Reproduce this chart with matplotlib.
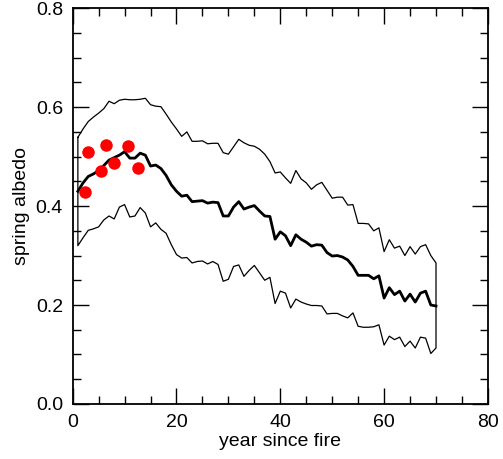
import matplotlib
matplotlib.use("Agg")
import matplotlib.pyplot as plt
import numpy as np

plt.rcParams['font.family'] = ['Liberation Sans', 'DejaVu Sans']

years = list(range(1, 71))
upper = [0.539, 0.556, 0.571, 0.580, 0.588, 0.597, 0.612, 0.607, 0.614, 0.616,
         0.615, 0.615, 0.616, 0.618, 0.605, 0.602, 0.601, 0.586, 0.570, 0.556,
         0.541, 0.550, 0.531, 0.531, 0.532, 0.526, 0.527, 0.527, 0.508, 0.505,
         0.520, 0.535, 0.528, 0.523, 0.521, 0.515, 0.505, 0.490, 0.467, 0.469,
         0.457, 0.446, 0.472, 0.455, 0.447, 0.434, 0.443, 0.448, 0.432, 0.416,
         0.418, 0.418, 0.402, 0.403, 0.365, 0.365, 0.364, 0.350, 0.356, 0.308,
         0.332, 0.315, 0.319, 0.300, 0.318, 0.303, 0.318, 0.322, 0.300, 0.285]
mean = [0.430, 0.447, 0.460, 0.465, 0.472, 0.482, 0.493, 0.498, 0.503, 0.510,
        0.497, 0.497, 0.507, 0.503, 0.481, 0.483, 0.476, 0.462, 0.443, 0.430,
        0.420, 0.422, 0.409, 0.410, 0.411, 0.406, 0.408, 0.407, 0.380, 0.380,
        0.398, 0.409, 0.394, 0.398, 0.401, 0.390, 0.380, 0.379, 0.333, 0.348,
        0.340, 0.320, 0.342, 0.333, 0.327, 0.319, 0.322, 0.321, 0.306, 0.299,
        0.300, 0.297, 0.291, 0.278, 0.260, 0.260, 0.260, 0.253, 0.259, 0.214,
        0.235, 0.221, 0.228, 0.208, 0.222, 0.206, 0.224, 0.228, 0.200, 0.198]
lower = [0.320, 0.336, 0.351, 0.354, 0.358, 0.372, 0.380, 0.374, 0.398, 0.403,
         0.378, 0.380, 0.397, 0.386, 0.358, 0.366, 0.353, 0.345, 0.322, 0.302,
         0.295, 0.296, 0.285, 0.288, 0.289, 0.283, 0.288, 0.282, 0.248, 0.252,
         0.278, 0.281, 0.258, 0.270, 0.280, 0.265, 0.250, 0.256, 0.203, 0.228,
         0.224, 0.194, 0.212, 0.206, 0.202, 0.199, 0.199, 0.198, 0.182, 0.183,
         0.183, 0.178, 0.174, 0.184, 0.157, 0.155, 0.155, 0.156, 0.160, 0.119,
         0.137, 0.130, 0.135, 0.116, 0.127, 0.113, 0.135, 0.133, 0.102, 0.113]
obs_year = [2.4, 3.0, 5.45, 6.5, 7.95, 10.6, 12.6]
obs_albedo = [0.428, 0.509, 0.470, 0.524, 0.488, 0.521, 0.477]

fig = plt.figure(figsize=(5.03, 4.59), dpi=100)
ax = fig.add_axes([0.1445, 0.120, 0.8255, 0.862])

# envelope drawn as closed outline
env_x = years + years[::-1] + [years[0]]
env_y = upper + lower[::-1] + [upper[0]]
ax.plot(env_x, env_y, color='black', lw=0.9)
ax.plot(years, mean, color='black', lw=2.0)
ax.plot(obs_year, obs_albedo, 'o', color='#ff0000', markersize=9, markeredgewidth=0)

ax.set_xlim(0, 80)
ax.set_ylim(0, 0.8)
ax.set_xticks([0, 20, 40, 60, 80])
ax.set_yticks([0.0, 0.2, 0.4, 0.6, 0.8])
ax.set_yticklabels(['0.0', '0.2', '0.4', '0.6', '0.8'])
ax.set_xticks(np.arange(0, 81, 5), minor=True)
ax.set_yticks(np.arange(0, 0.81, 0.05), minor=True)
ax.tick_params(which='both', direction='in', top=True, right=True, width=1.0,
               labelsize=14)
ax.tick_params(axis='x', which='both', pad=7)
ax.tick_params(axis='y', which='both', pad=7)
ax.tick_params(which='major', length=11.5)
ax.tick_params(which='minor', length=6)
for s in ax.spines.values():
    s.set_linewidth(1.3)
ax.set_xlabel('year since fire', fontsize=14, labelpad=2)
ax.set_ylabel('spring albedo', fontsize=14, labelpad=4)

fig.savefig('out.png', dpi=100)
